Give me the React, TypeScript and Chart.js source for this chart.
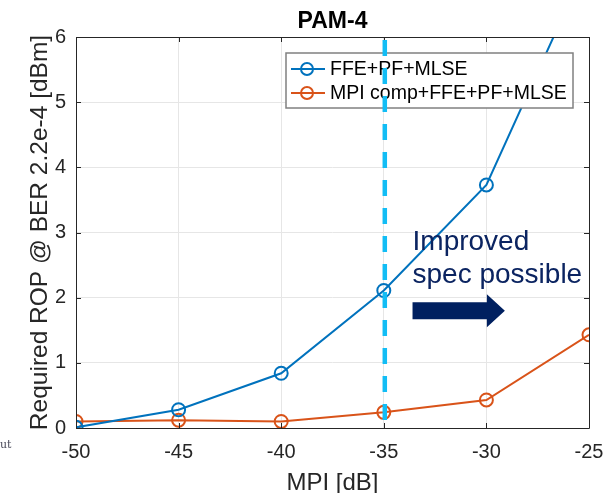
import React, { useEffect, useRef } from "react";
import { Chart, registerables } from "chart.js";

Chart.register(...registerables);

const mpiDb = [-50, -45, -40, -35, -30, -25];
const ffePfMlse = [0.01, 0.28, 0.84, 2.11, 3.73, 7.2];
const mpiCompFfePfMlse = [0.1, 0.12, 0.1, 0.24, 0.43, 1.43];
const seriesLabels = ["FFE+PF+MLSE", "MPI comp+FFE+PF+MLSE"];
const seriesColors = ["#0072BD", "#D95319"];
const xTicksRange = { min: -50, max: -25, step: 5 };
const yTicksRange = { min: 0, max: 6, step: 1 };
const specMpi = -35;
const noteLines = ["Improved", "spec possible"];
const notePos = { x: -33.6, y1: 2.73, y2: 2.23 };
const arrowPos = { x0: -33.6, x1: -29.1, y: 1.8 };

const FONT = "'Liberation Sans', Arial, sans-serif";

const overlayPlugin = {
  id: "overlay",
  afterDatasetsDraw(chart: any) {
    const ctx = chart.ctx as CanvasRenderingContext2D;
    const ca = chart.chartArea;
    const xs = chart.scales.x;
    const ys = chart.scales.y;
    ctx.save();

    // box with inward ticks
    ctx.strokeStyle = "#262626";
    ctx.lineWidth = 1;
    ctx.beginPath();
    ctx.rect(Math.round(ca.left) + 0.5, Math.round(ca.top) + 0.5, Math.round(ca.right - ca.left), Math.round(ca.bottom - ca.top));
    ctx.stroke();
    const tl = 5;
    ctx.beginPath();
    for (let v = xTicksRange.min; v <= xTicksRange.max; v += xTicksRange.step) {
      const px = Math.round(xs.getPixelForValue(v)) + 0.5;
      ctx.moveTo(px, ca.bottom);
      ctx.lineTo(px, ca.bottom - tl);
      ctx.moveTo(px, ca.top);
      ctx.lineTo(px, ca.top + tl);
    }
    for (let v = yTicksRange.min; v <= yTicksRange.max; v += yTicksRange.step) {
      const py = Math.round(ys.getPixelForValue(v)) + 0.5;
      ctx.moveTo(ca.left, py);
      ctx.lineTo(ca.left + tl, py);
      ctx.moveTo(ca.right, py);
      ctx.lineTo(ca.right - tl, py);
    }
    ctx.stroke();

    // legend
    const lx = 286, ly = 53, lw = 287, lh = 55;
    ctx.fillStyle = "#ffffff";
    ctx.fillRect(lx, ly, lw, lh);
    ctx.strokeStyle = "#808080";
    ctx.lineWidth = 1.5;
    ctx.strokeRect(lx, ly, lw, lh);
    ctx.font = `19.5px ${FONT}`;
    ctx.textBaseline = "middle";
    ctx.textAlign = "left";
    seriesLabels.forEach((lab, i) => {
      const cy = ly + 16 + i * 24;
      ctx.strokeStyle = seriesColors[i];
      ctx.lineWidth = 2;
      ctx.beginPath();
      ctx.moveTo(lx + 5, cy);
      ctx.lineTo(lx + 39, cy);
      ctx.stroke();
      ctx.beginPath();
      ctx.arc(lx + 21, cy, 6, 0, Math.PI * 2);
      ctx.stroke();
      ctx.fillStyle = "#000000";
      ctx.fillText(lab, lx + 44, cy + 1);
    });

    // dashed spec line
    const sx = xs.getPixelForValue(specMpi) + 1;
    ctx.strokeStyle = "#12BDF5";
    ctx.lineWidth = 4.5;
    ctx.setLineDash([16, 12]);
    ctx.beginPath();
    ctx.moveTo(sx, ca.top + 3);
    ctx.lineTo(sx, ca.bottom);
    ctx.stroke();
    ctx.setLineDash([]);

    // note text
    ctx.fillStyle = "#0B2461";
    ctx.font = `28px ${FONT}`;
    ctx.textBaseline = "alphabetic";
    ctx.textAlign = "left";
    ctx.fillText(noteLines[0], xs.getPixelForValue(notePos.x), ys.getPixelForValue(notePos.y1));
    ctx.fillText(noteLines[1], xs.getPixelForValue(notePos.x), ys.getPixelForValue(notePos.y2));

    // arrow
    const ax0 = xs.getPixelForValue(arrowPos.x0);
    const ax1 = xs.getPixelForValue(arrowPos.x1);
    const ay = ys.getPixelForValue(arrowPos.y);
    ctx.fillStyle = "#002060";
    ctx.beginPath();
    ctx.moveTo(ax0, ay - 8.5);
    ctx.lineTo(ax1 - 18, ay - 8.5);
    ctx.lineTo(ax1 - 18, ay - 16.5);
    ctx.lineTo(ax1, ay);
    ctx.lineTo(ax1 - 18, ay + 16.5);
    ctx.lineTo(ax1 - 18, ay + 8.5);
    ctx.lineTo(ax0, ay + 8.5);
    ctx.closePath();
    ctx.fill();

    // titles
    ctx.fillStyle = "#000000";
    ctx.font = `bold 23px ${FONT}`;
    ctx.textAlign = "center";
    ctx.textBaseline = "alphabetic";
    ctx.fillText("PAM-4", (ca.left + ca.right) / 2, 28);

    ctx.fillStyle = "#262626";
    ctx.font = `24px ${FONT}`;
    ctx.fillText("MPI [dB]", (ca.left + ca.right) / 2, 490);

    ctx.save();
    ctx.translate(47, (ca.top + ca.bottom) / 2);
    ctx.rotate(-Math.PI / 2);
    ctx.font = `24.5px ${FONT}`;
    ctx.textAlign = "center";
    ctx.textBaseline = "alphabetic";
    ctx.fillText("Required ROP @ BER 2.2e-4 [dBm]", 0, 0);
    ctx.restore();

    ctx.fillStyle = "#4a4a5a";
    ctx.font = `11px 'DejaVu Serif', serif`;
    ctx.textAlign = "left";
    ctx.fillText("ut", 0, 448);

    ctx.restore();
  },
};

export default function App() {
  const ref = useRef<HTMLCanvasElement>(null);
  useEffect(() => {
    document.body.style.margin = "0";
    const mk = (ys: number[]) => mpiDb.map((x, i) => ({ x, y: ys[i] }));
    const chart = new Chart(ref.current as HTMLCanvasElement, {
      type: "line",
      data: {
        datasets: [
          {
            label: seriesLabels[0],
            data: mk(ffePfMlse),
            borderColor: seriesColors[0],
            backgroundColor: "rgba(0,0,0,0)",
            pointBackgroundColor: "rgba(0,0,0,0)",
            pointBorderColor: seriesColors[0],
            pointRadius: 6.5,
            pointBorderWidth: 2,
            borderWidth: 2,
            tension: 0,
          },
          {
            label: seriesLabels[1],
            data: mk(mpiCompFfePfMlse),
            borderColor: seriesColors[1],
            backgroundColor: "rgba(0,0,0,0)",
            pointBackgroundColor: "rgba(0,0,0,0)",
            pointBorderColor: seriesColors[1],
            pointRadius: 6.5,
            pointBorderWidth: 2,
            borderWidth: 2,
            tension: 0,
          },
        ],
      },
      options: {
        animation: false,
        responsive: false,
        events: [],
        layout: { padding: { left: 0, right: 16, top: 37, bottom: 0 } },
        plugins: { legend: { display: false }, title: { display: false }, tooltip: { enabled: false } },
        scales: {
          x: {
            type: "linear",
            min: xTicksRange.min,
            max: xTicksRange.max,
            ticks: { stepSize: xTicksRange.step, color: "#262626", font: { family: FONT, size: 20 }, padding: 12, maxRotation: 0, autoSkip: false },
            grid: { color: "#E6E6E6", drawTicks: false },
            border: { display: false },
            afterFit: (s: any) => { s.height = 65; s.paddingRight = 0; s.paddingLeft = 0; },
          },
          y: {
            type: "linear",
            min: yTicksRange.min,
            max: yTicksRange.max,
            ticks: { stepSize: yTicksRange.step, color: "#262626", font: { family: FONT, size: 20 }, padding: 10 },
            grid: { color: "#E6E6E6", drawTicks: false },
            border: { display: false },
            afterFit: (s: any) => { s.width = 76; s.paddingTop = 0; s.paddingBottom = 0; },
          },
        },
      },
      plugins: [overlayPlugin],
    });
    return () => chart.destroy();
  }, []);
  return (
    <div style={{ position: "fixed", left: 0, top: 0, width: 605, height: 493, background: "#fff" }}>
      <canvas ref={ref} width={605} height={493} style={{ width: 605, height: 493 }} />
    </div>
  );
}
